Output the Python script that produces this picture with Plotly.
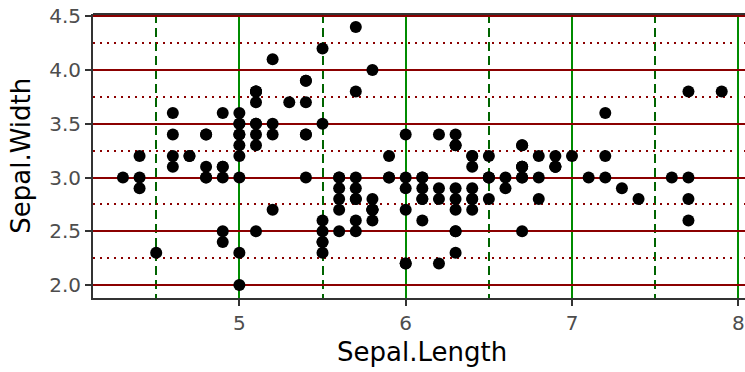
import plotly.graph_objects as go

sepal_length = [5.1,4.9,4.7,4.6,5.0,5.4,4.6,5.0,4.4,4.9,5.4,4.8,4.8,4.3,5.8,5.7,5.4,5.1,5.7,5.1,
                5.4,5.1,4.6,5.1,4.8,5.0,5.0,5.2,5.2,4.7,4.8,5.4,5.2,5.5,4.9,5.0,5.5,4.9,4.4,5.1,
                5.0,4.5,4.4,5.0,5.1,4.8,5.1,4.6,5.3,5.0,
                7.0,6.4,6.9,5.5,6.5,5.7,6.3,4.9,6.6,5.2,5.0,5.9,6.0,6.1,5.6,6.7,5.6,5.8,6.2,5.6,
                5.9,6.1,6.3,6.1,6.4,6.6,6.8,6.7,6.0,5.7,5.5,5.5,5.8,6.0,5.4,6.0,6.7,6.3,5.6,5.5,
                5.5,6.1,5.8,5.0,5.6,5.7,5.7,6.2,5.1,5.7,
                6.3,5.8,7.1,6.3,6.5,7.6,4.9,7.3,6.7,7.2,6.5,6.4,6.8,5.7,5.8,6.4,6.5,7.7,7.7,6.0,
                6.9,5.6,7.7,6.3,6.7,7.2,6.2,6.1,6.4,7.2,7.4,7.9,6.4,6.3,6.1,7.7,6.3,6.4,6.0,6.9,
                6.7,6.9,5.8,6.8,6.7,6.7,6.3,6.5,6.2,5.9]
sepal_width = [3.5,3.0,3.2,3.1,3.6,3.9,3.4,3.4,2.9,3.1,3.7,3.4,3.0,3.0,4.0,4.4,3.9,3.5,3.8,3.8,
               3.4,3.7,3.6,3.3,3.4,3.0,3.4,3.5,3.4,3.2,3.1,3.4,4.1,4.2,3.1,3.2,3.5,3.6,3.0,3.4,
               3.5,2.3,3.2,3.5,3.8,3.0,3.8,3.2,3.7,3.3,
               3.2,3.2,3.1,2.3,2.8,2.8,3.3,2.4,2.9,2.7,2.0,3.0,2.2,2.9,2.9,3.1,3.0,2.7,2.2,2.5,
               3.2,2.8,2.5,2.8,2.9,3.0,2.8,3.0,2.9,2.6,2.4,2.4,2.7,2.7,3.0,3.4,3.1,2.3,3.0,2.5,
               2.6,3.0,2.6,2.3,2.7,3.0,2.9,2.9,2.5,2.8,
               3.3,2.7,3.0,2.9,3.0,3.0,2.5,2.9,2.5,3.6,3.2,2.7,3.0,2.5,2.8,3.2,3.0,3.8,2.6,2.2,
               3.2,2.8,2.8,2.7,3.3,3.2,2.8,3.0,2.8,3.0,2.8,3.8,2.8,2.8,2.6,3.0,3.4,3.1,3.0,3.1,
               3.1,3.1,2.7,3.2,3.3,3.0,2.5,3.0,3.4,3.0]

x_ticks = [5, 6, 7, 8]
y_ticks = [2.0, 2.5, 3.0, 3.5, 4.0, 4.5]
y_tick_labels = ["2.0", "2.5", "3.0", "3.5", "4.0", "4.5"]

FONT = "DejaVu Sans"

fig = go.Figure()
fig.add_trace(go.Scatter(
    x=sepal_length, y=sepal_width, mode="markers",
    marker=dict(color="black", size=12, line=dict(width=0)),
    showlegend=False, hoverinfo="x+y",
))

fig.update_layout(
    width=745, height=372,
    margin=dict(l=93, r=0, t=14, b=74),
    paper_bgcolor="white", plot_bgcolor="white",
    font=dict(family=FONT, color="#4D4D4D"),
    xaxis=dict(
        range=[4.12, 8.04], tickvals=x_ticks, ticktext=[str(v) for v in x_ticks],
        showgrid=True, gridcolor="#008B00", gridwidth=2,
        minor=dict(dtick=0.5, tick0=4.5, showgrid=True, gridcolor="#006400",
                   gridwidth=1.5, griddash="9px,5px"),
        zeroline=False, showline=True, linecolor="#333333", linewidth=2,
        ticks="outside", ticklen=6, tickwidth=2, tickcolor="#333333",
        tickfont=dict(size=20, color="#4D4D4D", family=FONT),
    ),
    yaxis=dict(
        range=[1.88, 4.52], tickvals=y_ticks, ticktext=y_tick_labels,
        showgrid=True, gridcolor="#8B0000", gridwidth=2,
        minor=dict(dtick=0.25, tick0=2.25, showgrid=True, gridcolor="#8B0000",
                   gridwidth=1.5, griddash="2px,5px"),
        zeroline=False, showline=True, linecolor="#333333", linewidth=2,
        ticks="outside", ticklen=6, tickwidth=2, tickcolor="#333333",
        tickfont=dict(size=20, color="#4D4D4D", family=FONT),
    ),
    shapes=[
        dict(type="line", xref="paper", yref="paper", x0=0, x1=1, y0=1, y1=1,
             line=dict(color="#333333", width=2), layer="above"),
    ],
    annotations=[
        dict(text="Sepal.Length", xref="paper", yref="paper", x=0.505, y=-0.19,
             xanchor="center", yanchor="middle", showarrow=False,
             font=dict(size=26, color="black", family=FONT)),
        dict(text="Sepal.Width", xref="paper", yref="paper", x=-0.11, y=0.502,
             xanchor="center", yanchor="middle", showarrow=False, textangle=-90,
             font=dict(size=26, color="black", family=FONT)),
    ],
)

fig.write_html("out.html")
